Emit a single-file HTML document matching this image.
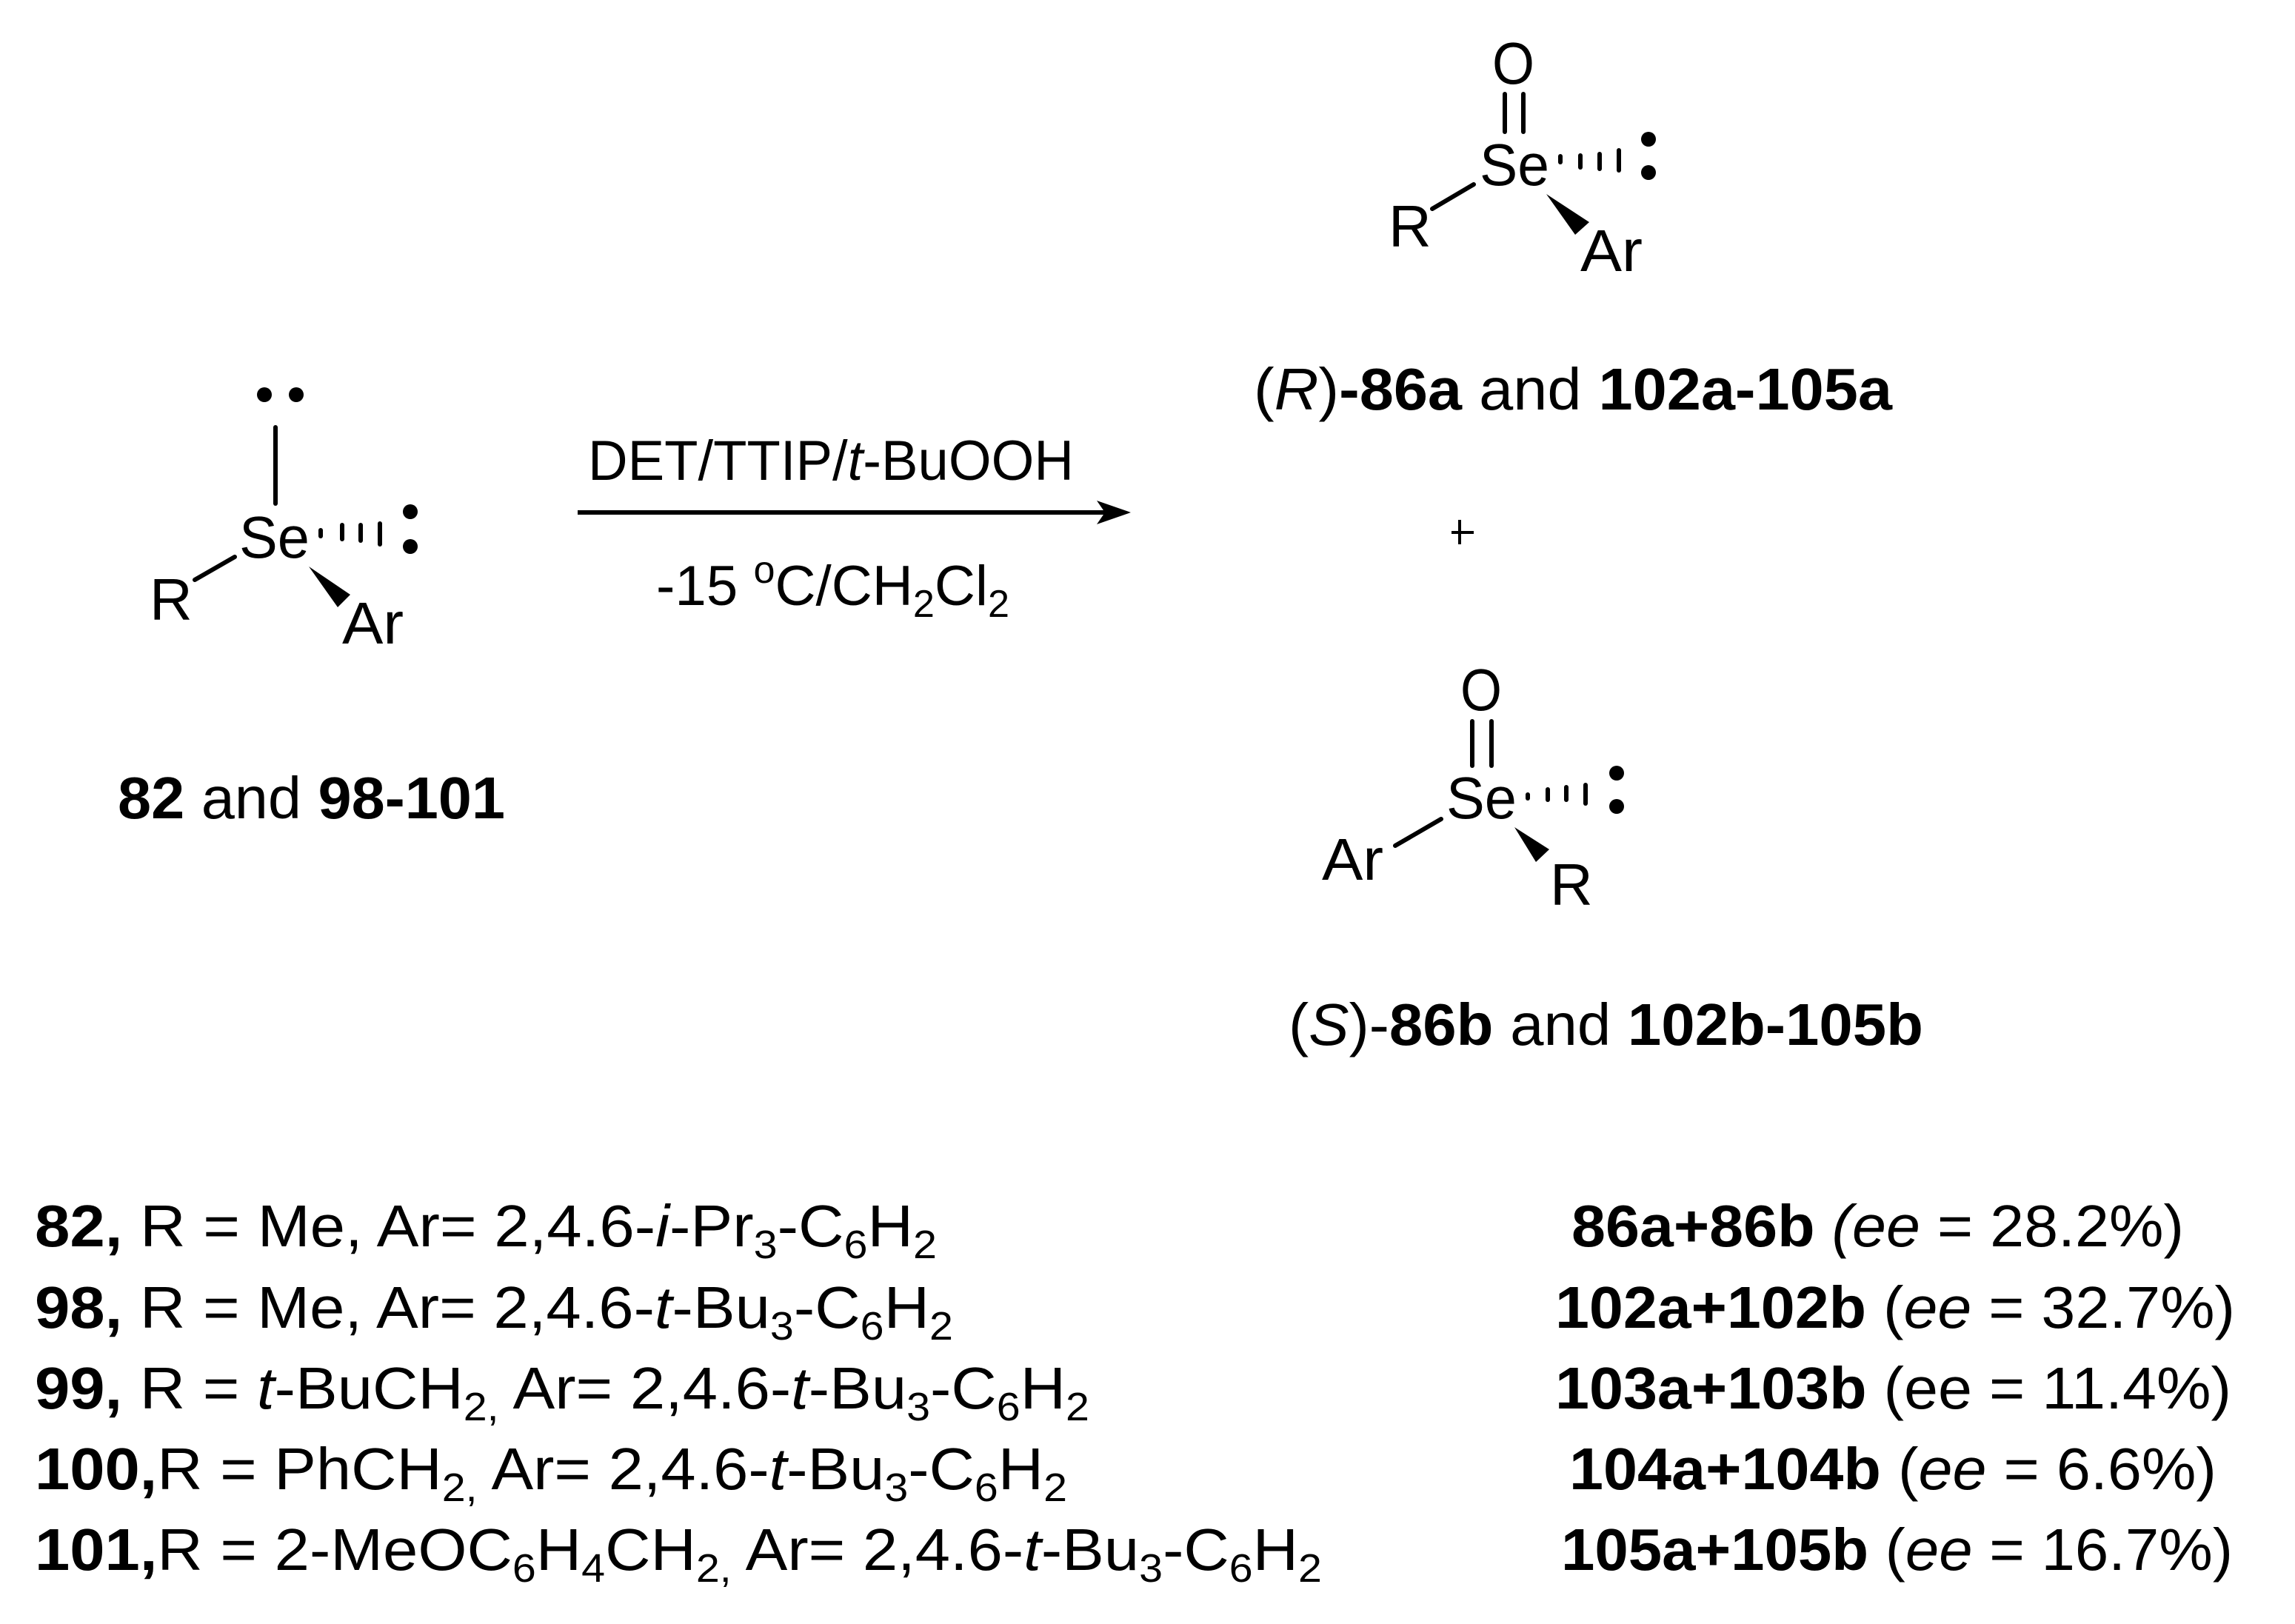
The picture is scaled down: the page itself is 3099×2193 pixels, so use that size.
<!DOCTYPE html>
<html><head><meta charset="utf-8"><style>
html,body{margin:0;padding:0;background:#fff;}
svg{display:block;}
text{font-family:"Liberation Sans",Arial,sans-serif;fill:#000;}
</style></head><body>
<svg width="3099" height="2193" viewBox="0 0 3099 2193" xmlns="http://www.w3.org/2000/svg">
<g stroke="#000" stroke-width="6" stroke-linecap="round" fill="none">
 <!-- left reactant -->
 <line x1="372" y1="577" x2="372" y2="680"/>
 <line x1="263" y1="783" x2="317" y2="752"/>
 <line x1="433" y1="716" x2="433" y2="724"/>
 <line x1="462" y1="709" x2="462" y2="728"/>
 <line x1="487" y1="709" x2="487" y2="730"/>
 <line x1="513" y1="707" x2="513" y2="735"/>
 <!-- top product -->
 <line x1="2032" y1="127" x2="2032" y2="178"/>
 <line x1="2057" y1="127" x2="2057" y2="178"/>
 <line x1="1934" y1="282" x2="1990" y2="249"/>
 <line x1="2107" y1="211" x2="2107" y2="219"/>
 <line x1="2134" y1="210" x2="2134" y2="226"/>
 <line x1="2160" y1="208" x2="2160" y2="228"/>
 <line x1="2186" y1="203" x2="2186" y2="230"/>
 <!-- bottom product -->
 <line x1="1988" y1="974" x2="1988" y2="1034"/>
 <line x1="2014" y1="974" x2="2014" y2="1034"/>
 <line x1="1884" y1="1142" x2="1946" y2="1106"/>
 <line x1="2063" y1="1073" x2="2063" y2="1078"/>
 <line x1="2090" y1="1066" x2="2090" y2="1080"/>
 <line x1="2115" y1="1063" x2="2115" y2="1080"/>
 <line x1="2141" y1="1060" x2="2141" y2="1085"/>
 <!-- arrow -->
 <line x1="780" y1="692" x2="1495" y2="692" stroke-linecap="butt"/>
 <!-- plus -->
 <line x1="1960" y1="719" x2="1990" y2="719" stroke-width="4" stroke-linecap="butt"/>
 <line x1="1971" y1="702" x2="1971" y2="735" stroke-width="4" stroke-linecap="butt"/>
</g>
<g fill="#000">
 <polygon points="1527,692 1481,676 1492,692 1481,708"/>
 <circle cx="357" cy="533" r="10"/><circle cx="400" cy="533" r="10"/>
 <circle cx="554" cy="691" r="10"/><circle cx="554" cy="738" r="10"/>
 <polygon points="417,765 473,803 456,820"/>
 <circle cx="2226" cy="188" r="10"/><circle cx="2226" cy="233" r="10"/>
 <polygon points="2088,262 2146,300 2127,317"/>
 <circle cx="2183" cy="1044" r="10"/><circle cx="2183" cy="1089" r="10"/>
 <polygon points="2045,1117 2092,1147 2074,1164"/>
</g>
<g font-size="80">
 <text x="323" y="753" textLength="95" lengthAdjust="spacingAndGlyphs">Se</text>
 <text x="202" y="837">R</text>
 <text x="462" y="869" textLength="83" lengthAdjust="spacingAndGlyphs">Ar</text>
 <text x="2015" y="113" textLength="57" lengthAdjust="spacingAndGlyphs">O</text>
 <text x="1998" y="250" textLength="94" lengthAdjust="spacingAndGlyphs">Se</text>
 <text x="1875" y="333">R</text>
 <text x="2134" y="366" textLength="84" lengthAdjust="spacingAndGlyphs">Ar</text>
 <text x="1972" y="959" textLength="56" lengthAdjust="spacingAndGlyphs">O</text>
 <text x="1953" y="1105" textLength="95" lengthAdjust="spacingAndGlyphs">Se</text>
 <text x="1785" y="1188" textLength="83" lengthAdjust="spacingAndGlyphs">Ar</text>
 <text x="2093" y="1222">R</text>

 <text x="159" y="1105" textLength="523" lengthAdjust="spacingAndGlyphs"><tspan font-weight="bold">82</tspan> and <tspan font-weight="bold">98-101</tspan></text>
 <text x="1693" y="553" textLength="862" lengthAdjust="spacingAndGlyphs">(<tspan font-style="italic">R</tspan>)<tspan font-weight="bold">-86a</tspan> and <tspan font-weight="bold">102a-105a</tspan></text>
 <text x="1740" y="1411" textLength="857" lengthAdjust="spacingAndGlyphs">(<tspan font-style="italic">S</tspan>)-<tspan font-weight="bold">86b</tspan> and <tspan font-weight="bold">102b-105b</tspan></text>
</g>
<g font-size="76">
 <text x="794" y="648" textLength="656" lengthAdjust="spacingAndGlyphs">DET/TTIP/<tspan font-style="italic">t</tspan>-BuOOH</text>
 <text x="886" y="817" textLength="477" lengthAdjust="spacingAndGlyphs">-15 <tspan font-size="52" dy="-30">o</tspan><tspan dy="30">C/CH</tspan><tspan font-size="52" dy="16">2</tspan><tspan dy="-16">Cl</tspan><tspan font-size="52" dy="16">2</tspan></text>
</g>
<g font-size="80">
 <text x="47" y="1683" textLength="1218" lengthAdjust="spacingAndGlyphs"><tspan font-weight="bold">82,</tspan> R = Me, Ar= 2,4.6-<tspan font-style="italic">i</tspan>-Pr<tspan font-size="54" dy="16">3</tspan><tspan dy="-16">-C</tspan><tspan font-size="54" dy="16">6</tspan><tspan dy="-16">H</tspan><tspan font-size="54" dy="16">2</tspan></text>
 <text x="47" y="1793" textLength="1240" lengthAdjust="spacingAndGlyphs"><tspan font-weight="bold">98,</tspan> R = Me, Ar= 2,4.6-<tspan font-style="italic">t</tspan>-Bu<tspan font-size="54" dy="16">3</tspan><tspan dy="-16">-C</tspan><tspan font-size="54" dy="16">6</tspan><tspan dy="-16">H</tspan><tspan font-size="54" dy="16">2</tspan></text>
 <text x="47" y="1902" textLength="1424" lengthAdjust="spacingAndGlyphs"><tspan font-weight="bold">99,</tspan> R = <tspan font-style="italic">t</tspan>-BuCH<tspan font-size="54" dy="16">2,</tspan><tspan dy="-16"> Ar= 2,4.6-</tspan><tspan font-style="italic">t</tspan>-Bu<tspan font-size="54" dy="16">3</tspan><tspan dy="-16">-C</tspan><tspan font-size="54" dy="16">6</tspan><tspan dy="-16">H</tspan><tspan font-size="54" dy="16">2</tspan></text>
 <text x="47" y="2011" textLength="1394" lengthAdjust="spacingAndGlyphs"><tspan font-weight="bold">100,</tspan>R = PhCH<tspan font-size="54" dy="16">2,</tspan><tspan dy="-16"> Ar= 2,4.6-</tspan><tspan font-style="italic">t</tspan>-Bu<tspan font-size="54" dy="16">3</tspan><tspan dy="-16">-C</tspan><tspan font-size="54" dy="16">6</tspan><tspan dy="-16">H</tspan><tspan font-size="54" dy="16">2</tspan></text>
 <text x="47" y="2120" textLength="1738" lengthAdjust="spacingAndGlyphs"><tspan font-weight="bold">101,</tspan>R = 2-MeOC<tspan font-size="54" dy="16">6</tspan><tspan dy="-16">H</tspan><tspan font-size="54" dy="16">4</tspan><tspan dy="-16">CH</tspan><tspan font-size="54" dy="16">2,</tspan><tspan dy="-16"> Ar= 2,4.6-</tspan><tspan font-style="italic">t</tspan>-Bu<tspan font-size="54" dy="16">3</tspan><tspan dy="-16">-C</tspan><tspan font-size="54" dy="16">6</tspan><tspan dy="-16">H</tspan><tspan font-size="54" dy="16">2</tspan></text>

 <text x="2122" y="1683" textLength="827" lengthAdjust="spacingAndGlyphs"><tspan font-weight="bold">86a+86b</tspan> <tspan font-style="italic">(ee</tspan> = 28.2%)</text>
 <text x="2100" y="1793" textLength="918" lengthAdjust="spacingAndGlyphs"><tspan font-weight="bold">102a+102b</tspan> (<tspan font-style="italic">ee</tspan> = 32.7%)</text>
 <text x="2100" y="1902" textLength="913" lengthAdjust="spacingAndGlyphs"><tspan font-weight="bold">103a+103b</tspan> (ee = 11.4%)</text>
 <text x="2119" y="2011" textLength="874" lengthAdjust="spacingAndGlyphs"><tspan font-weight="bold">104a+104b</tspan> (<tspan font-style="italic">ee</tspan> = 6.6%)</text>
 <text x="2108" y="2120" textLength="907" lengthAdjust="spacingAndGlyphs"><tspan font-weight="bold">105a+105b</tspan> (<tspan font-style="italic">ee</tspan> = 16.7%)</text>
</g>
</svg>
</body></html>
